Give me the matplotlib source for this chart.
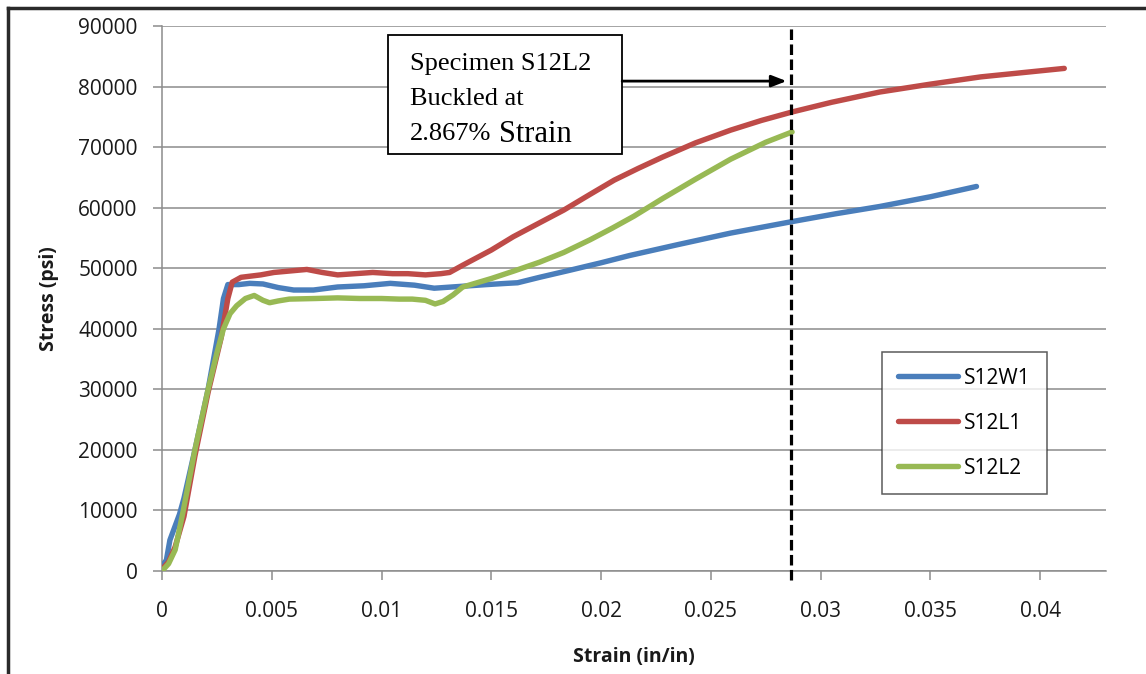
import numpy as np
import matplotlib
matplotlib.use('Agg')
import matplotlib.pyplot as plt
from matplotlib.lines import Line2D
from matplotlib.patches import Rectangle

matplotlib.rcParams['font.family'] = 'Open Sans'

# S12W1 (blue)
w1_strain = [0, 0.0002, 0.00036, 0.0008, 0.001, 0.0015, 0.0021, 0.0026, 0.0028, 0.003,
             0.0035, 0.004, 0.0046, 0.0053, 0.006, 0.0069, 0.008, 0.0092, 0.0104, 0.0115,
             0.0124, 0.0136, 0.0148, 0.0157, 0.0162, 0.0172, 0.0185, 0.02, 0.0213, 0.0235,
             0.0259, 0.0287, 0.0307, 0.0327, 0.035, 0.0371]
w1_stress = [800, 1800, 5100, 9400, 12000, 20000, 30000, 40000, 45000, 47300,
             47300, 47500, 47400, 46800, 46400, 46400, 46900, 47100, 47500, 47200,
             46700, 47000, 47300, 47500, 47600, 48500, 49600, 50900, 52100, 53900,
             55800, 57700, 59000, 60200, 61800, 63500]

# S12L1 (red)
l1_strain = [0, 0.0003, 0.0006, 0.001, 0.0015, 0.0021, 0.0027, 0.003, 0.0032, 0.0036,
             0.0045, 0.0051, 0.006, 0.0066, 0.0073, 0.008, 0.0088, 0.0096, 0.0105, 0.0112,
             0.012, 0.0127, 0.0131, 0.0137, 0.015, 0.016, 0.0172, 0.0183, 0.0195, 0.0206,
             0.0217, 0.0228, 0.0243, 0.0259, 0.0273, 0.0287, 0.0305, 0.0327, 0.035, 0.0373,
             0.0392, 0.0411]
l1_stress = [300, 1500, 4000, 9000, 19000, 29500, 38600, 45000, 47700, 48500,
             48900, 49300, 49600, 49800, 49300, 48900, 49100, 49300, 49100, 49100,
             48900, 49100, 49300, 50500, 53000, 55200, 57500, 59600, 62200, 64550,
             66500, 68350, 70700, 72800, 74400, 75800, 77400, 79100, 80400, 81600,
             82300, 83000]

# S12L2 (green)
l2_strain = [0, 0.0003, 0.0006, 0.00096, 0.0015, 0.0021, 0.0025, 0.0028, 0.0031, 0.0034,
             0.0038, 0.0042, 0.0046, 0.0049, 0.0053, 0.0058, 0.007, 0.008, 0.009, 0.010,
             0.0108, 0.0114, 0.012, 0.01244, 0.0128, 0.01326, 0.0137, 0.015, 0.016, 0.0172,
             0.0183, 0.0195, 0.0205, 0.0215, 0.0228, 0.0243, 0.0259, 0.0275, 0.0287]
l2_stress = [0, 1200, 3500, 9800, 20000, 30000, 36000, 40000, 42500, 43800,
             45000, 45500, 44700, 44300, 44600, 44900, 45000, 45100, 45000, 45000,
             44900, 44900, 44700, 44100, 44500, 45600, 46900, 48300, 49500, 51000,
             52600, 54700, 56600, 58600, 61500, 64700, 68000, 70800, 72500]

buckle_strain = 0.02867

fig = plt.figure(figsize=(11.46, 6.74), dpi=100)
ax = fig.add_axes([162/1146, 1-571/674, (1106-162)/1146, (571-26)/674])

ax.plot(w1_strain, w1_stress, color='#4A7EBB', lw=3.9, label='S12W1', solid_capstyle='round', zorder=3)
ax.plot(l1_strain, l1_stress, color='#BE4B48', lw=3.9, label='S12L1', solid_capstyle='round', zorder=3)
ax.plot(l2_strain, l2_stress, color='#98B954', lw=3.9, label='S12L2', solid_capstyle='round', zorder=4)

ax.plot([buckle_strain, buckle_strain], [-1500, 90000], color='black', lw=2.3,
        linestyle=(0, (3.3, 1.4)), clip_on=False, zorder=5)

ax.set_xlim(0, 0.043)
ax.set_ylim(0, 90000)
ax.set_xticks(np.arange(0, 0.0401, 0.005))
ax.set_xticklabels(['0', '0.005', '0.01', '0.015', '0.02', '0.025', '0.03', '0.035', '0.04'])
ax.set_yticks(np.arange(0, 90001, 10000))
ax.set_yticklabels([str(v) for v in range(0, 90001, 10000)])
ax.grid(axis='y', color='#8c8c8c', lw=1.1)
ax.set_axisbelow(True)
for s in ['top', 'right']:
    ax.spines[s].set_visible(False)
for s in ['left', 'bottom']:
    ax.spines[s].set_color('#8c8c8c')
    ax.spines[s].set_linewidth(1.1)
ax.tick_params(axis='both', direction='out', length=6.5, width=1.1, color='#8c8c8c',
               labelsize=15, labelcolor='#1a1a1a')
ax.tick_params(axis='x', pad=15)
ax.tick_params(axis='y', pad=11)

ax.set_xlabel('Strain (in/in)', fontsize=14, fontweight='bold', color='#1a1a1a', labelpad=18)
ax.set_ylabel('Stress (psi)', fontsize=14, fontweight='bold', color='#1a1a1a', labelpad=14)

leg = ax.legend(loc='upper left', bbox_to_anchor=(0.7627, 0.4018), fontsize=15,
                frameon=True, fancybox=False, edgecolor='#333333', borderpad=0.75,
                labelspacing=1.15, handlelength=2.9, handletextpad=0.3, borderaxespad=0)
leg.get_frame().set_linewidth(1.1)
for h in leg.get_lines():
    h.set_linewidth(3.9)

# annotation box
ax.add_patch(Rectangle((0.2394, 0.7651), 0.2479, 0.2184, transform=ax.transAxes,
                       facecolor='white', edgecolor='black', lw=1.3, zorder=6, clip_on=False))
serif = 'Liberation Serif'
ax.text(0.2627, (571-64)/545, 'Specimen S12L2', transform=ax.transAxes, family=serif,
        fontsize=19, va='center', ha='left', zorder=7)
ax.text(0.2627, (571-99)/545, 'Buckled at', transform=ax.transAxes, family=serif,
        fontsize=19, va='center', ha='left', zorder=7)
ax.text(0.2627, (571-134)/545, '2.867%', transform=ax.transAxes, family=serif,
        fontsize=19, va='center', ha='left', zorder=7)
ax.text(0.357, (571-134)/545, 'Strain', transform=ax.transAxes, family=serif,
        fontsize=22, va='center', ha='left', zorder=7)
ax.annotate('', xy=(0.02845, 80900), xytext=(0.02096, 80900),
            arrowprops=dict(arrowstyle='-|>,head_length=0.9,head_width=0.35', color='black',
                            lw=2, shrinkA=0, shrinkB=0), zorder=7)

# outer frame (top and left edges visible)
fig.add_artist(Line2D([8/1146, 8/1146], [0, 1-8/674], color='#2a2a2a', lw=2.5))
fig.add_artist(Line2D([8/1146, 1], [1-8/674, 1-8/674], color='#2a2a2a', lw=2.5))

fig.savefig('out.png', dpi=100)
